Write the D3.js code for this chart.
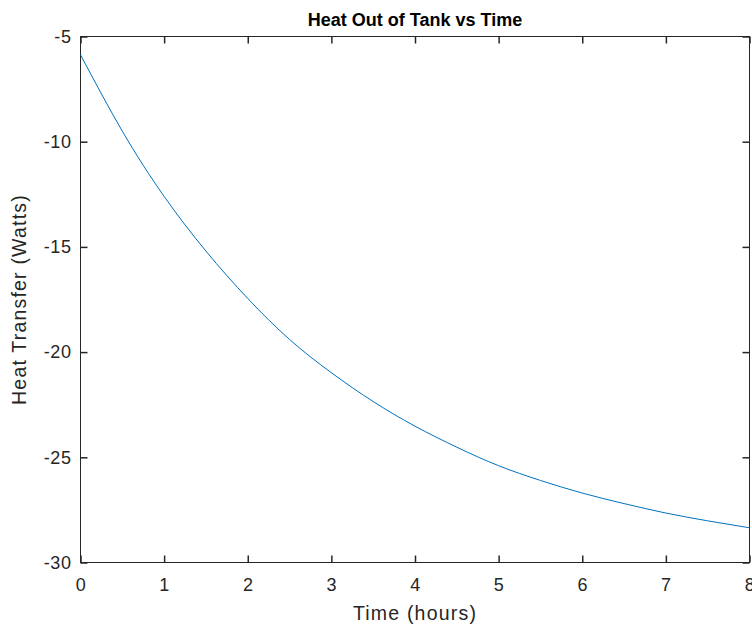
<!DOCTYPE html>
<html>
<head>
<meta charset="utf-8">
<script src="https://cdn.jsdelivr.net/npm/d3@7"></script>
<style>
  body { margin: 0; background: #fff; }
  svg { display: block; font-family: "Liberation Sans", Arial, sans-serif; }
</style>
</head>
<body>
<svg id="chart" width="752" height="628"></svg>
<script>
// values (hours, watts)
var hours = [0, 0.5, 1, 1.5, 2, 2.5, 3, 3.5, 4, 4.5, 5, 5.5, 6, 6.5, 7, 7.5, 8];
var heat = [-5.87, -9.5, -12.6, -15.2, -17.45, -19.4, -20.98, -22.35, -23.52,
            -24.52, -25.4, -26.1, -26.7, -27.2, -27.65, -28.02, -28.35];
var xTicks = [0, 1, 2, 3, 4, 5, 6, 7, 8];
var yTicks = [-30, -25, -20, -15, -10, -5];

var svg = d3.select("#chart");
var plotLeft = 80.5, plotRight = 749.5, plotTop = 36.5, plotBottom = 562.5;
var axisColour = "#262626";

var x = d3.scaleLinear().domain([0, 8]).range([plotLeft, plotRight]);
var y = d3.scaleLinear().domain([-30, -5]).range([plotBottom, plotTop]);

// plain hyphen for negatives, as in the reference
var plainFormat = function(d) { return String(d); };

function styleTicks(g) {
    g.select(".domain").remove();
    g.selectAll(".tick line").attr("stroke", axisColour).attr("stroke-width", 1.5);
    g.selectAll("text")
        .attr("font-size", "18px")
        .attr("letter-spacing", "0.6px")
        .attr("fill", axisColour);
}

// bottom and left axes with inward ticks
svg.append("g")
    .attr("transform", "translate(0," + plotBottom + ")")
    .call(d3.axisBottom(x).tickValues(xTicks).tickFormat(plainFormat)
        .tickSizeInner(-7).tickSizeOuter(0).tickPadding(16))
    .call(styleTicks);

svg.append("g")
    .attr("transform", "translate(" + plotLeft + ",0)")
    .call(d3.axisLeft(y).tickValues(yTicks).tickFormat(plainFormat)
        .tickSizeInner(-7).tickSizeOuter(0).tickPadding(9))
    .call(styleTicks);

// mirrored ticks on top and right
svg.append("g")
    .attr("transform", "translate(0," + plotTop + ")")
    .call(d3.axisTop(x).tickValues(xTicks).tickSizeInner(-7).tickSizeOuter(0).tickFormat(""))
    .call(styleTicks);

svg.append("g")
    .attr("transform", "translate(" + plotRight + ",0)")
    .call(d3.axisRight(y).tickValues(yTicks).tickSizeInner(-7).tickSizeOuter(0).tickFormat(""))
    .call(styleTicks);

// box
svg.append("rect")
    .attr("x", plotLeft).attr("y", plotTop)
    .attr("width", plotRight - plotLeft).attr("height", plotBottom - plotTop)
    .attr("fill", "none")
    .attr("stroke", axisColour)
    .attr("stroke-width", 1);

// curve
var line = d3.line()
    .x(function(d) { return x(d[0]); })
    .y(function(d) { return y(d[1]); })
    .curve(d3.curveNatural);

svg.append("path")
    .datum(hours.map(function(h, i) { return [h, heat[i]]; }))
    .attr("fill", "none")
    .attr("stroke", "#0072BD")
    .attr("stroke-width", 1)
    .attr("d", line);

// labels
svg.append("text")
    .attr("x", (plotLeft + plotRight) / 2).attr("y", 26)
    .attr("text-anchor", "middle")
    .attr("font-size", "18px").attr("font-weight", "bold")
    .attr("fill", "#000")
    .text("Heat Out of Tank vs Time");

svg.append("text")
    .attr("x", (plotLeft + plotRight) / 2).attr("y", 620)
    .attr("text-anchor", "middle")
    .attr("font-size", "19.5px")
    .attr("letter-spacing", "1.2px")
    .attr("fill", axisColour)
    .text("Time (hours)");

svg.append("text")
    .attr("transform", "translate(26," + ((plotTop + plotBottom) / 2) + ") rotate(-90)")
    .attr("text-anchor", "middle")
    .attr("font-size", "19.5px")
    .attr("letter-spacing", "1.2px")
    .attr("fill", axisColour)
    .text("Heat Transfer (Watts)");
</script>
</body>
</html>
